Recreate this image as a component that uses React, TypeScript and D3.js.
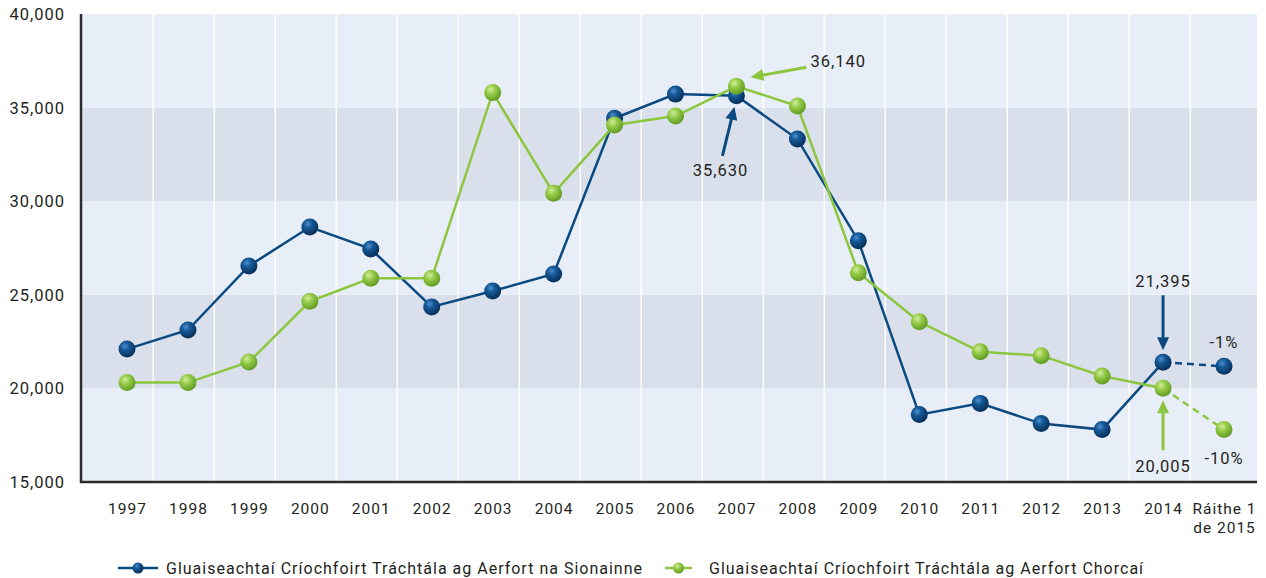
import React from "react";
import * as d3 from "d3";

const categories = ["1997","1998","1999","2000","2001","2002","2003","2004","2005","2006","2007","2008","2009","2010","2011","2012","2013","2014","Ráithe 1|de 2015"];
const shannon = [22100,23120,26540,28620,27450,24350,25200,26110,34430,35720,35630,33320,27890,18600,19200,18120,17800,21395,21180];
const cork = [20310,20310,21410,24650,25880,25880,35800,30420,34070,34550,36140,35085,26180,23560,21960,21750,20660,20005,17800];
const yTicks = [15000,20000,25000,30000,35000,40000];
const seriesNames = ["Gluaiseachtaí Críochfoirt Tráchtála ag Aerfort na Sionainne","Gluaiseachtaí Críochfoirt Tráchtála ag Aerfort Chorcaí"];
const annotations = [
  { series: 1, idx: 10, label: "36,140" },
  { series: 0, idx: 10, label: "35,630" },
  { series: 0, idx: 17, label: "21,395" },
  { series: 1, idx: 17, label: "20,005" },
];
const changeLabels = ["-1%", "-10%"];

const W = 1266, H = 578;
const left = 82, right = 1257, top = 14, bottom = 482;
const BLUE = "#0b4a80";
const GREEN = "#8cc63f";
const FONT = "Roboto, 'DejaVu Sans', sans-serif";
const TXT = "#231f20";
const LS = 1;

export default function App() {
  const x = d3.scalePoint<string>().domain(categories).range([127, 1224]);
  const y = d3.scaleLinear().domain([15000, 40000]).range([bottom, top]);
  const gridX = d3.scaleLinear().domain([0.5, 17.5]).range([153.3, 1190.3]);
  const px = (i: number) => x(categories[i]) as number;

  const line = d3.line<number>().x((_, i) => px(i)).y((d) => y(d));
  const solidPart = (arr: number[]) => line(arr.slice(0, 18));
  const dashPart = (arr: number[]) =>
    d3.line<number>().x((_, i) => px(i + 17)).y((d) => y(d))(arr.slice(17));

  const bands = d3.range(0, yTicks.length - 1).map((i) => ({ lo: yTicks[i], hi: yTicks[i + 1], dark: i % 2 === 1 }));

  const arrowHead = (tx: number, ty: number, fx: number, fy: number, color: string, len = 13, wid = 12) => {
    const a = Math.atan2(ty - fy, tx - fx);
    const bx = tx - len * Math.cos(a), by = ty - len * Math.sin(a);
    const nx = -Math.sin(a) * wid / 2, ny = Math.cos(a) * wid / 2;
    return <polygon points={`${tx},${ty} ${bx + nx},${by + ny} ${bx - nx},${by - ny}`} fill={color} />;
  };
  const arrow = (fx: number, fy: number, tx: number, ty: number, color: string) => {
    const a = Math.atan2(ty - fy, tx - fx);
    const ex = tx - 11 * Math.cos(a), ey = ty - 11 * Math.sin(a);
    return (
      <g>
        <line x1={fx} y1={fy} x2={ex} y2={ey} stroke={color} strokeWidth={3} />
        {arrowHead(tx, ty, fx, fy, color)}
      </g>
    );
  };

  const s = [shannon, cork];
  const a0 = annotations[0], a1 = annotations[1], a2 = annotations[2], a3 = annotations[3];
  const p = (an: { series: number; idx: number }) => ({ cx: px(an.idx), cy: y(s[an.series][an.idx]) });
  const g0 = p(a0), b0 = p(a1), b1 = p(a2), g1 = p(a3);
  const lastX = px(18);

  const legendItems = [
    { lx: 118, len: 40, tx: 166, color: BLUE, grad: "url(#gBlue)" },
    { lx: 665, len: 27, tx: 709, color: GREEN, grad: "url(#gGreen)" },
  ];

  return (
    <div style={{ position: "absolute", left: 0, top: 0 }}>
      <svg width={W} height={H} style={{ display: "block", fontFamily: FONT, letterSpacing: LS }}>
        <defs>
          <radialGradient id="gBlue" cx="38%" cy="32%" r="70%">
            <stop offset="0%" stopColor="#4f8fcf" />
            <stop offset="35%" stopColor="#165a98" />
            <stop offset="100%" stopColor="#062c55" />
          </radialGradient>
          <radialGradient id="gGreen" cx="38%" cy="32%" r="70%">
            <stop offset="0%" stopColor="#d2ec9c" />
            <stop offset="40%" stopColor="#95cb48" />
            <stop offset="100%" stopColor="#5e9922" />
          </radialGradient>
        </defs>
        <rect x={0} y={0} width={W} height={H} fill="#fff" />
        {bands.map((b, i) => (
          <rect key={i} x={left} y={y(b.hi)} width={right - left} height={y(b.lo) - y(b.hi)} fill={b.dark ? "#d9dfeb" : "#e8eef8"} />
        ))}
        {d3.range(0, 18).map((i) => (
          <line key={i} x1={gridX(i + 0.5)} x2={gridX(i + 0.5)} y1={top} y2={bottom} stroke="#ffffff" strokeWidth={1.5} />
        ))}
        <line x1={left - 1} x2={left - 1} y1={top} y2={bottom + 1} stroke="#2b2b2b" strokeWidth={2.5} />
        <line x1={left - 2} x2={right} y1={bottom} y2={bottom} stroke="#2b2b2b" strokeWidth={2.5} />
        {yTicks.map((t) => (
          <text key={t} x={65} y={y(t) + 6} textAnchor="end" fontSize={16.5} fill={TXT}>{d3.format(",")(t)}</text>
        ))}
        {categories.map((c, i) => {
          const parts = c.split("|");
          return (
            <text key={c} x={px(i)} y={514} textAnchor="middle" fontSize={15.5} fill={TXT}>
              {parts.map((pt, j) => (
                <tspan key={j} x={px(i) + LS / 2} dy={j === 0 ? 0 : 19}>{pt}</tspan>
              ))}
            </text>
          );
        })}

        {/* lines */}
        <path d={solidPart(shannon) || ""} fill="none" stroke={BLUE} strokeWidth={2.5} />
        <path d={dashPart(shannon) || ""} fill="none" stroke={BLUE} strokeWidth={2.5} strokeDasharray="7,5" />
        <path d={solidPart(cork) || ""} fill="none" stroke={GREEN} strokeWidth={2.5} />
        <path d={dashPart(cork) || ""} fill="none" stroke={GREEN} strokeWidth={2.5} strokeDasharray="7,5" />

        {categories.map((c, i) => (
          <g key={"m" + c}>
            <circle cx={px(i)} cy={y(shannon[i])} r={8.5} fill="url(#gBlue)" />
            <circle cx={px(i)} cy={y(cork[i])} r={8.5} fill="url(#gGreen)" />
          </g>
        ))}

        {/* annotations */}
        {arrow(g0.cx + 70, g0.cy - 19, g0.cx + 14, g0.cy - 9, GREEN)}
        <text x={g0.cx + 74} y={g0.cy - 19} fontSize={16.5} fill={TXT}>{a0.label}</text>
        {arrow(b0.cx - 14, b0.cy + 60, b0.cx - 2, b0.cy + 11, BLUE)}
        <text x={b0.cx - 16} y={b0.cy + 80} textAnchor="middle" fontSize={16.5} fill={TXT}>{a1.label}</text>
        {arrow(b1.cx, b1.cy - 67, b1.cx, b1.cy - 12, BLUE)}
        <text x={b1.cx} y={b1.cy - 75} textAnchor="middle" fontSize={16.5} fill={TXT}>{a2.label}</text>
        {arrow(g1.cx, g1.cy + 62, g1.cx, g1.cy + 12, GREEN)}
        <text x={g1.cx} y={g1.cy + 84} textAnchor="middle" fontSize={16.5} fill={TXT}>{a3.label}</text>
        <text x={lastX} y={y(shannon[18]) - 18} textAnchor="middle" fontSize={16.5} fill={TXT}>{changeLabels[0]}</text>
        <text x={lastX} y={y(cork[18]) + 34} textAnchor="middle" fontSize={16.5} fill={TXT}>{changeLabels[1]}</text>

        {/* legend */}
        {legendItems.map((it, k) => (
          <g key={"l" + k}>
            <line x1={it.lx} x2={it.lx + it.len} y1={568} y2={568} stroke={it.color} strokeWidth={2.5} />
            <circle cx={it.lx + it.len / 2} cy={568} r={5.5} fill={it.grad} />
            <text x={it.tx} y={574} fontSize={16} fill={TXT}>{seriesNames[k]}</text>
          </g>
        ))}
      </svg>
    </div>
  );
}
